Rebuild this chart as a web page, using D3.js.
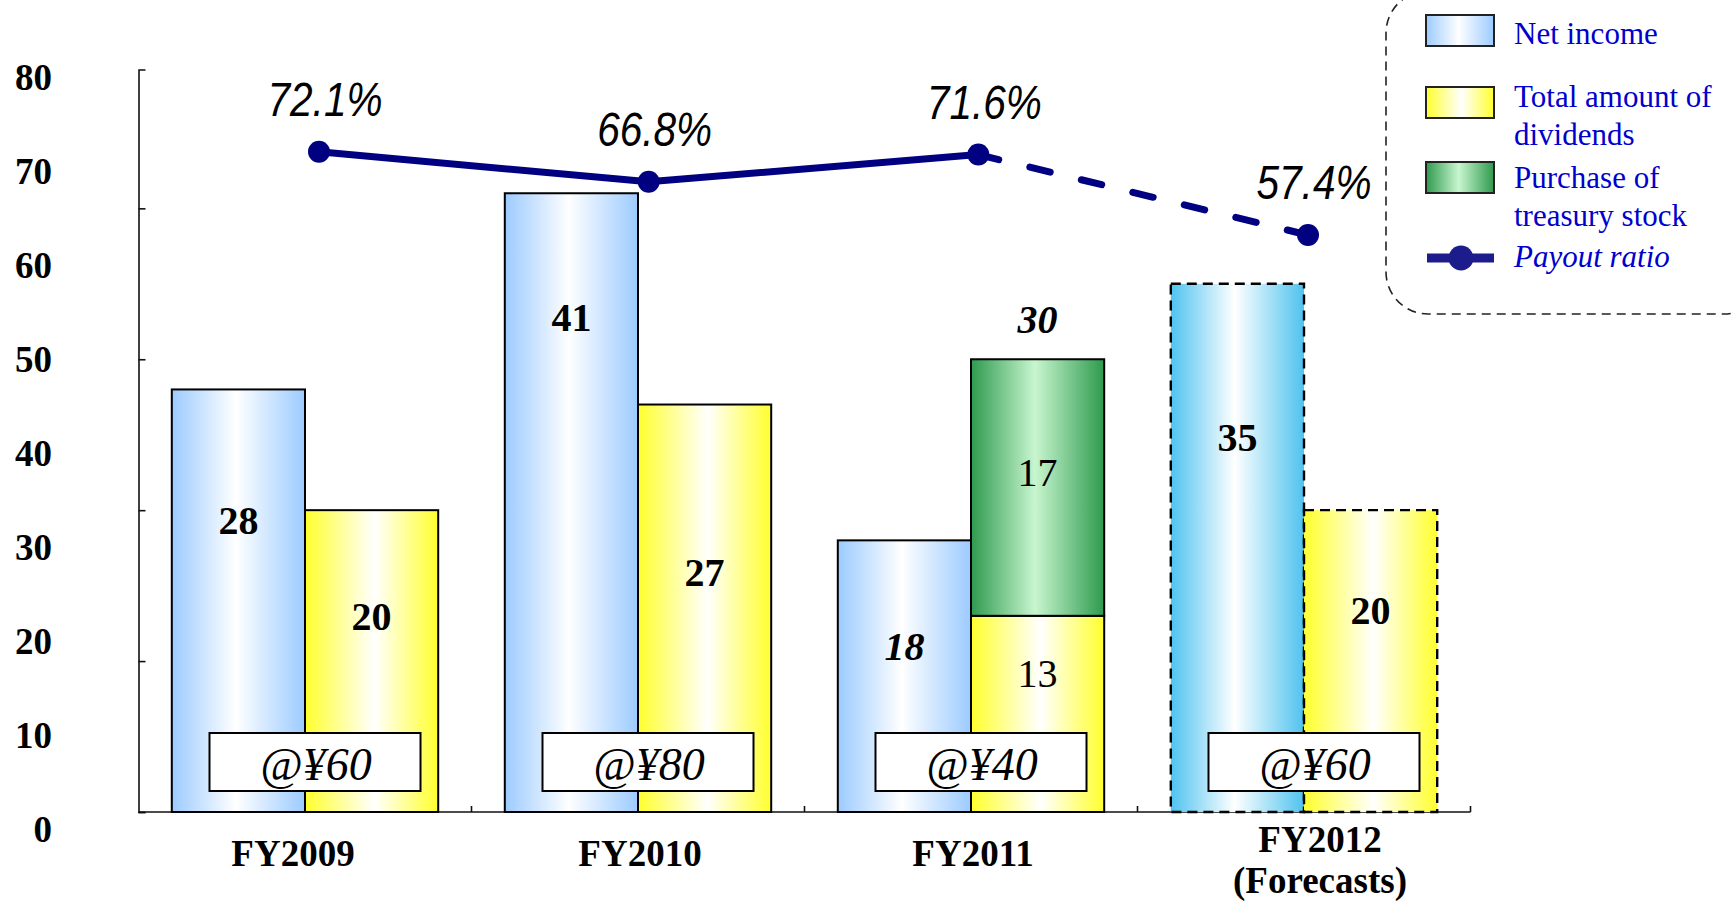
<!DOCTYPE html>
<html><head><meta charset="utf-8">
<script src="https://cdn.jsdelivr.net/npm/d3@7"></script>
<style>html,body{margin:0;padding:0;background:#fff;overflow:hidden}</style>
</head><body>
<svg id="chart" width="1731" height="901"></svg>
<script>
// ---- data ----
const categories = ["FY2009", "FY2010", "FY2011", "FY2012"];
const categoryLines = [["FY2009"], ["FY2010"], ["FY2011"], ["FY2012", "(Forecasts)"]];
const netIncome = [28, 41, 18, 35];
const dividends = [20, 27, 13, 20];
const treasuryStock = [0, 0, 17, 0];
const payoutRatio = [72.1, 66.8, 71.6, 57.4];
const dividendPerShare = ["@¥60", "@¥80", "@¥40", "@¥60"];
const isForecast = [false, false, false, true];
const leftTicks = [0, 10, 20, 30, 40, 50, 60, 70, 80];
const amountTicks = [0, 10, 20, 30, 40];

// ---- layout of the labels ----
// height of each label inside its bar, as a share of the bar's value
const netLabelAt = [0.69, 0.80, 0.61, 0.71];
const divLabelAt = [0.65, 0.59, 0.71, 0.67];
const stockLabelAt = 0.56;
const netLabelItalic = [false, false, true, false];
const divLabelBold = [true, true, false, true];
// horizontal nudge of the category names from the band centre (px)
const catLabelShift = [-12, 2, 2, 16];

const SERIF = "'Liberation Serif','Times New Roman',serif";
const SANS = "'Liberation Sans',Arial,sans-serif";
const NAVY = "#000080";

const svg = d3.select("#chart");

// ---- gradients ----
const defs = svg.append("defs");
function hGrad(id, edge, mid, midAt) {
  const g = defs.append("linearGradient").attr("id", id)
    .attr("x1", 0).attr("x2", 1).attr("y1", 0).attr("y2", 0);
  g.append("stop").attr("offset", "0%").attr("stop-color", edge);
  g.append("stop").attr("offset", midAt || "48%").attr("stop-color", mid);
  g.append("stop").attr("offset", "100%").attr("stop-color", edge);
}
hGrad("gNet", "#9ccbff", "#ffffff");
hGrad("gNetF", "#4fc3ef", "#ffffff");
hGrad("gDiv", "#ffff2e", "#ffffff", "52%");
hGrad("gStock", "#2e9a4e", "#c8f6cf");

// ---- scales ----
const x = d3.scaleBand().domain(categories).range([138.5, 1470.5]);
const bw = x.bandwidth();
const xs = d3.scaleBand().domain(["net", "div"]).range([0, bw]).paddingOuter(0.25);
const yAmt = d3.scaleLinear().domain([0, 49.2]).range([812, 69.5]);
const yRatio = d3.scaleLinear().domain([0, 80]).range([560.3, 107]);
const yLeft = d3.scaleLinear().domain([0, 80]).range([829, 77]);
const xLine = d3.scalePoint().domain(categories).range([319, 1308]);

// ---- axes ----
// amount axis: unlabeled, ticks pointing inward
const yAxisG = svg.append("g").attr("transform", "translate(138.5,0)")
  .call(d3.axisRight(yAmt).tickValues(amountTicks).tickSize(7).tickSizeOuter(7).tickFormat(""));
yAxisG.selectAll("path,line").attr("stroke", "#111").attr("stroke-width", 1.6);

// value labels down the left side
const leftG = svg.append("g").attr("transform", "translate(52,0)")
  .call(d3.axisLeft(yLeft).tickValues(leftTicks).tickSize(0).tickPadding(0));
leftG.select(".domain").remove();
leftG.selectAll("text").attr("font-family", SERIF).attr("font-weight", "bold")
  .attr("font-size", 37).attr("fill", "#000").attr("dy", "0.34em");

// category axis
svg.append("line").attr("x1", x.range()[0]).attr("x2", x.range()[1])
  .attr("y1", yAmt(0)).attr("y2", yAmt(0)).attr("stroke", "#111").attr("stroke-width", 1.6);
svg.selectAll(".xtick").data(categories).join("line").attr("class", "xtick")
  .attr("x1", d => x(d) + bw).attr("x2", d => x(d) + bw)
  .attr("y1", yAmt(0)).attr("y2", yAmt(0) - 6)
  .attr("stroke", "#111").attr("stroke-width", 1.6);

const catG = svg.selectAll(".cat").data(categories).join("text").attr("class", "cat")
  .attr("text-anchor", "middle").attr("font-family", SERIF).attr("font-weight", "bold")
  .attr("font-size", 37).attr("fill", "#000");
catG.each(function (d, i) {
  const lines = categoryLines[i];
  const t = d3.select(this);
  const cx = x(d) + bw / 2 + catLabelShift[i];
  lines.forEach((ln, k) => {
    t.append("tspan").attr("x", cx)
      .attr("y", lines.length === 1 ? 866 : 852 + k * 41).text(ln);
  });
});

// ---- bars ----
function styleBar(sel, fillFor) {
  sel.attr("fill", (d, i) => fillFor(i))
    .attr("stroke", "#000")
    .attr("stroke-width", (d, i) => isForecast[i] ? 2.4 : 2)
    .attr("stroke-dasharray", (d, i) => isForecast[i] ? "10,6" : null);
}

svg.selectAll(".bar-net").data(netIncome).join("rect").attr("class", "bar-net")
  .attr("x", (d, i) => x(categories[i]) + xs("net"))
  .attr("width", xs.bandwidth())
  .attr("y", d => yAmt(d))
  .attr("height", d => yAmt(0) - yAmt(d))
  .call(styleBar, i => isForecast[i] ? "url(#gNetF)" : "url(#gNet)");

svg.selectAll(".bar-div").data(dividends).join("rect").attr("class", "bar-div")
  .attr("x", (d, i) => x(categories[i]) + xs("div"))
  .attr("width", xs.bandwidth())
  .attr("y", d => yAmt(d))
  .attr("height", d => yAmt(0) - yAmt(d))
  .call(styleBar, () => "url(#gDiv)");

svg.selectAll(".bar-stock").data(treasuryStock.map((v, i) => ({ v, i })).filter(d => d.v > 0))
  .join("rect").attr("class", "bar-stock")
  .attr("x", d => x(categories[d.i]) + xs("div"))
  .attr("width", xs.bandwidth())
  .attr("y", d => yAmt(dividends[d.i] + d.v))
  .attr("height", d => yAmt(dividends[d.i]) - yAmt(dividends[d.i] + d.v))
  .attr("fill", "url(#gStock)").attr("stroke", "#000").attr("stroke-width", 2);

// ---- dividend per share boxes ----
const dps = svg.selectAll(".dps").data(dividendPerShare).join("g").attr("class", "dps")
  .attr("transform", (d, i) => `translate(${x(categories[i]) + bw / 2 + 10},0)`);
dps.append("rect").attr("x", -105.5).attr("y", 733).attr("width", 211).attr("height", 58)
  .attr("fill", "#fff").attr("stroke", "#000").attr("stroke-width", 2);
dps.append("text").attr("x", 1).attr("y", 780).attr("text-anchor", "middle")
  .attr("font-family", SERIF).attr("font-style", "italic").attr("font-size", 46)
  .attr("fill", "#000").text(d => d);

// ---- bar value labels ----
function valueLabel(cx, cy, txt, bold, italic) {
  svg.append("text").attr("x", cx).attr("y", cy).attr("dy", "0.35em")
    .attr("text-anchor", "middle").attr("font-family", SERIF).attr("font-size", 40)
    .attr("font-weight", bold ? "bold" : "normal")
    .attr("font-style", italic ? "italic" : "normal")
    .attr("fill", "#000").text(txt);
}
categories.forEach((c, i) => {
  const netX = x(c) + xs("net") + xs.bandwidth() / 2;
  const divX = x(c) + xs("div") + xs.bandwidth() / 2;
  valueLabel(netX, yAmt(netIncome[i] * netLabelAt[i]), netIncome[i], true, netLabelItalic[i]);
  valueLabel(divX, yAmt(dividends[i] * divLabelAt[i]), dividends[i], divLabelBold[i], false);
  if (treasuryStock[i] > 0) {
    const total = dividends[i] + treasuryStock[i];
    valueLabel(divX, yAmt(dividends[i] + treasuryStock[i] * stockLabelAt), treasuryStock[i], false, false);
    valueLabel(divX, yAmt(total) - 40, total, true, true);
  }
});

// ---- payout ratio line ----
const pts = payoutRatio.map((v, i) => [xLine(categories[i]), yRatio(v)]);
const line = d3.line();
const lastActual = isForecast.indexOf(true) - 1;
svg.append("path").attr("d", line(pts.slice(0, lastActual + 1)))
  .attr("fill", "none").attr("stroke", NAVY).attr("stroke-width", 7).attr("stroke-linejoin", "round");
svg.append("path").attr("d", line(pts.slice(lastActual)))
  .attr("fill", "none").attr("stroke", NAVY).attr("stroke-width", 7)
  .attr("stroke-linecap", "round").attr("stroke-dasharray", "21,32");
svg.selectAll(".dot").data(pts).join("circle").attr("class", "dot")
  .attr("cx", d => d[0]).attr("cy", d => d[1]).attr("r", 11).attr("fill", NAVY);
svg.selectAll(".pct").data(payoutRatio).join("text").attr("class", "pct")
  .attr("x", (d, i) => xLine(categories[i]) + 6)
  .attr("y", d => yRatio(d) - 36)
  .attr("text-anchor", "middle").attr("font-family", SANS).attr("font-style", "italic")
  .attr("font-size", 49).attr("fill", "#000")
  .attr("textLength", 115).attr("lengthAdjust", "spacingAndGlyphs")
  .text(d => d.toFixed(1) + "%");

// ---- legend ----
const lg = svg.append("g");
lg.append("rect").attr("x", 1386).attr("y", -9).attr("width", 380).attr("height", 323)
  .attr("rx", 42).attr("fill", "none").attr("stroke", "#222")
  .attr("stroke-width", 1.6).attr("stroke-dasharray", "9,6");
const legendItems = [
  { fill: "url(#gNet)", y: 15, lines: ["Net income"], base: 44 },
  { fill: "url(#gDiv)", y: 87, lines: ["Total amount of", "dividends"], base: 107 },
  { fill: "url(#gStock)", y: 162, lines: ["Purchase of", "treasury stock"], base: 188 }
];
legendItems.forEach(it => {
  lg.append("rect").attr("x", 1426).attr("y", it.y).attr("width", 68).attr("height", 31)
    .attr("fill", it.fill).attr("stroke", "#222").attr("stroke-width", 2);
  const t = lg.append("text").attr("font-family", SERIF).attr("font-size", 31).attr("fill", "#0000cc");
  it.lines.forEach((ln, k) => t.append("tspan").attr("x", 1514).attr("y", it.base + k * 38).text(ln));
});
lg.append("line").attr("x1", 1427).attr("x2", 1494).attr("y1", 258).attr("y2", 258)
  .attr("stroke", "#1c1c8c").attr("stroke-width", 9);
lg.append("circle").attr("cx", 1461).attr("cy", 258).attr("r", 12.5).attr("fill", "#1c1c8c");
lg.append("text").attr("x", 1514).attr("y", 267).attr("font-family", SERIF)
  .attr("font-style", "italic").attr("font-size", 31).attr("fill", "#0000cc").text("Payout ratio");
</script>
</body></html>
